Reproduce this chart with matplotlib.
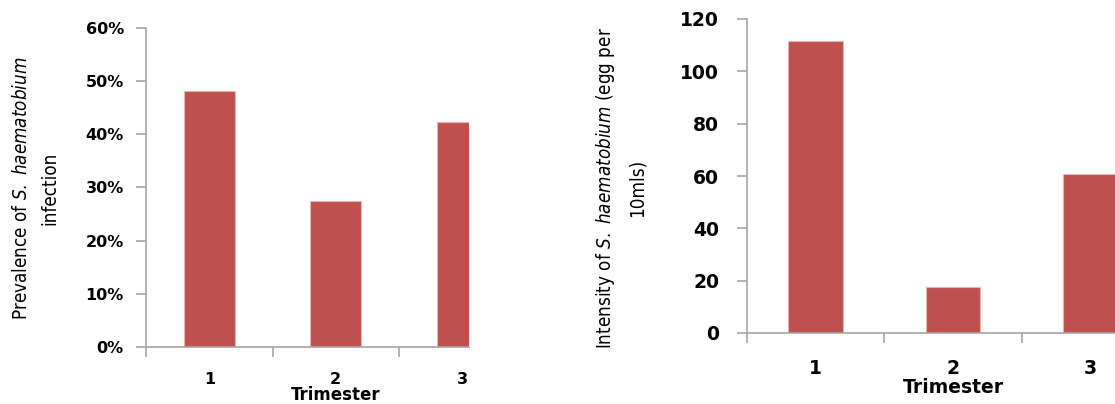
import matplotlib
matplotlib.use("Agg")
import matplotlib.pyplot as plt
from matplotlib.transforms import blended_transform_factory
from matplotlib.ticker import FuncFormatter

trimesters = [1, 2, 3]
prevalence = [0.482, 0.275, 0.423]
intensity = [111.7, 17.5, 60.7]

prev_ticks = [0, 0.1, 0.2, 0.3, 0.4, 0.5, 0.6]
int_ticks = [0, 20, 40, 60, 80, 100, 120]

bar_color = "#C0504D"
edge_color = "#E9B5B3"
axis_color = "#A6A6A6"

plt.rcParams["mathtext.fontset"] = "custom"
plt.rcParams["mathtext.it"] = "DejaVu Sans:italic:stretch=condensed"
plt.rcParams["mathtext.rm"] = "DejaVu Sans:stretch=condensed"

fig = plt.figure(figsize=(11.15, 4.04), dpi=100)

W, H = 1115, 404
axL = fig.add_axes([146 / W, 1 - 347 / H, (469 - 146) / W, (347 - 28) / H])
axR = fig.add_axes([747 / W, 1 - 333 / H, (1115 - 747) / W, (333 - 19) / H])


def style(ax, vals, ticks, ylim, xright, fmt, tsize, ypad, xpad):
    ax.bar(trimesters, vals, width=0.4, color=bar_color,
           edgecolor=edge_color, linewidth=0.8, zorder=2)
    ax.set_yticks(ticks)
    ax.yaxis.set_major_formatter(FuncFormatter(fmt))
    ax.set_xticks(trimesters)
    ax.set_xticks([0.5, 1.5, 2.5, 3.5], minor=True)
    ax.set_xlim(0.5, xright)
    ax.set_ylim(*ylim)
    for s in ["top", "right"]:
        ax.spines[s].set_visible(False)
    for s in ["left", "bottom"]:
        ax.spines[s].set_color(axis_color)
        ax.spines[s].set_linewidth(1.2)
    ax.tick_params(axis="y", length=7, width=1.2, color=axis_color,
                   labelsize=tsize, pad=ypad)
    ax.tick_params(axis="x", which="major", length=0, labelsize=tsize, pad=xpad)
    ax.tick_params(axis="x", which="minor", length=7, width=1.2, color=axis_color)
    for lab in ax.get_xticklabels() + ax.get_yticklabels():
        lab.set_fontweight("bold")


style(axL, prevalence, prev_ticks, (0, 0.6), 3.053,
      lambda v, p: f"{v*100:.0f}%", 11.5, 9, 18)
style(axR, intensity, int_ticks, (0, 120), 3.18,
      lambda v, p: f"{v:.0f}", 13.5, 13, 19)

trL = blended_transform_factory(axL.transData, axL.transAxes)
axL.text(2, -0.166, "Trimester", transform=trL, ha="center", va="baseline",
         fontsize=12, fontweight="bold")
trR = blended_transform_factory(axR.transData, axR.transAxes)
axR.text(2, -0.191, "Trimester", transform=trR, ha="center", va="baseline",
         fontsize=13.5, fontweight="bold")

fig.text(36 / W, 1 - 188 / H,
         "Prevalence of $\\mathit{S.\\ haematobium}$\ninfection",
         rotation=90, ha="center", va="center", multialignment="center",
         fontsize=13.5, family="DejaVu Sans", fontstretch="condensed",
         linespacing=1.6)
fig.text(620 / W, 1 - 188 / H,
         "Intensity of $\\mathit{S.\\ haematobium}$ (egg per\n10mls)",
         rotation=90, ha="center", va="center", multialignment="center",
         fontsize=13.5, family="DejaVu Sans", fontstretch="condensed",
         linespacing=1.7)

fig.savefig("out.png", dpi=100)
